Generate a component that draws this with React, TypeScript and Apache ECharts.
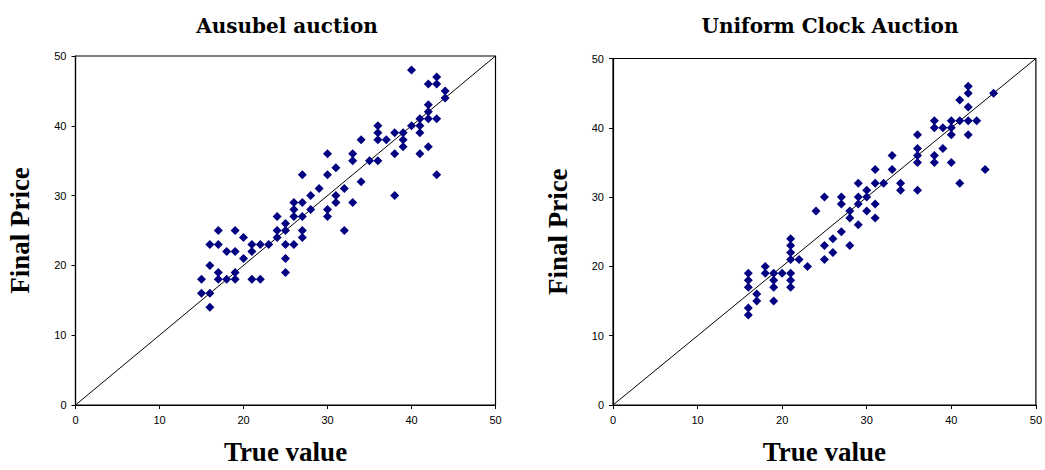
import React, { useEffect, useRef } from "react";
import * as echarts from "echarts";

const titles = ["Ausubel auction", "Uniform Clock Auction"];
const xName = "True value";
const yName = "Final Price";
const ticks = [0, 10, 20, 30, 40, 50];

const ausubel: number[][] = [
  [15, 18], [15, 16], [16, 16], [16, 14], [16, 20], [16, 23], [17, 23], [17, 25], [17, 19], [17, 18],
  [18, 18], [18, 22], [19, 25], [19, 22], [19, 19], [19, 18], [20, 24], [20, 21], [21, 23], [21, 22],
  [21, 18], [22, 23], [22, 18], [23, 23], [24, 27], [24, 25], [24, 24], [25, 26], [25, 25], [25, 23],
  [25, 21], [25, 19], [26, 29], [26, 28], [26, 27], [26, 23], [27, 33], [27, 29], [27, 27], [27, 25],
  [27, 24], [28, 30], [28, 28], [29, 31], [30, 36], [30, 33], [30, 28], [30, 27], [31, 34], [31, 30],
  [31, 29], [32, 31], [32, 25], [33, 36], [33, 35], [33, 29], [34, 38], [34, 32], [35, 35], [36, 40],
  [36, 39], [36, 38], [36, 35], [37, 38], [38, 39], [38, 36], [38, 30], [39, 39], [39, 38], [39, 37],
  [40, 48], [40, 40], [41, 41], [41, 40], [41, 39], [41, 36], [42, 46], [42, 43], [42, 42], [42, 41],
  [42, 37], [43, 47], [43, 46], [43, 41], [43, 33], [44, 45], [44, 44],
];

const uniformClock: number[][] = [
  [16, 19], [16, 18], [16, 17], [16, 14], [16, 13], [17, 16], [17, 15], [18, 20], [18, 19], [19, 19],
  [19, 18], [19, 17], [19, 15], [20, 19], [21, 24], [21, 23], [21, 22], [21, 21], [21, 19], [21, 18],
  [21, 17], [22, 21], [23, 20], [24, 28], [25, 30], [25, 23], [25, 21], [26, 24], [26, 22], [27, 30],
  [27, 29], [27, 25], [28, 28], [28, 27], [28, 23], [29, 32], [29, 30], [29, 29], [29, 26], [30, 31],
  [30, 30], [30, 28], [31, 34], [31, 32], [31, 29], [31, 27], [32, 32], [33, 36], [33, 34], [34, 32],
  [34, 31], [36, 39], [36, 37], [36, 36], [36, 35], [36, 31], [38, 41], [38, 40], [38, 36], [38, 35],
  [39, 40], [39, 37], [40, 41], [40, 40], [40, 39], [40, 35], [41, 44], [41, 41], [41, 32], [42, 46],
  [42, 45], [42, 43], [42, 41], [42, 39], [43, 41], [44, 34], [45, 45],
];

const diagonal: number[][] = [[0, 0], [50, 50]];

export default function App() {
  const ref = useRef<HTMLDivElement>(null);
  useEffect(() => {
    if (!ref.current) return;
    const chart = echarts.init(ref.current, null, { renderer: "svg" });
    const grids = [
      { left: 75.5, top: 56, width: 420, height: 352 },
      { left: 613, top: 58.5, width: 427, height: 351 },
    ];
    const axisCommon = {
      type: "value" as const,
      min: ticks[0],
      max: ticks[ticks.length - 1],
      interval: 10,
      splitLine: { show: false },
      axisLine: { show: true, lineStyle: { color: "#000", width: 1.2 } },
      axisTick: { show: true, length: 4, lineStyle: { color: "#000" } },
      axisLabel: { color: "#000", fontSize: 11, fontFamily: "Liberation Sans", margin: 9 },
      nameLocation: "middle" as const,
      nameTextStyle: {
        color: "#000",
        fontSize: 27,
        fontWeight: "bold" as const,
        fontFamily: "Liberation Serif",
      },
    };
    chart.setOption({
      animation: false,
      backgroundColor: "#fff",
      title: titles.map((t, i) => ({
        text: t,
        left: i === 0 ? 282 : 825,
        top: 11,
        textAlign: "center",
        textStyle: { fontSize: 20, fontWeight: "bold", fontFamily: "DejaVu Serif", color: "#000" },
      })),
      grid: grids.map((g) => ({ ...g, show: true, borderColor: "#000", borderWidth: 1.2, backgroundColor: "transparent" })),
      xAxis: grids.map((_, i) => ({ ...axisCommon, gridIndex: i, name: xName, nameGap: 33 })),
      yAxis: grids.map((_, i) => ({ ...axisCommon, gridIndex: i, name: yName, nameGap: 42 })),
      series: [
        ...[ausubel, uniformClock].map((d, i) => ({
          type: "scatter",
          xAxisIndex: i,
          yAxisIndex: i,
          data: d,
          symbol: "diamond",
          symbolSize: 9,
          itemStyle: { color: "#000080", opacity: 1 },
          z: 3,
        })),
        ...[0, 1].map((i) => ({
          type: "line",
          xAxisIndex: i,
          yAxisIndex: i,
          data: diagonal,
          symbol: "none",
          lineStyle: { color: "#000", width: 1 },
          z: 2,
        })),
      ],
    });
    return () => chart.dispose();
  }, []);
  return <div ref={ref} style={{ width: 1045, height: 470, position: "absolute", left: 0, top: 0 }} />;
}
